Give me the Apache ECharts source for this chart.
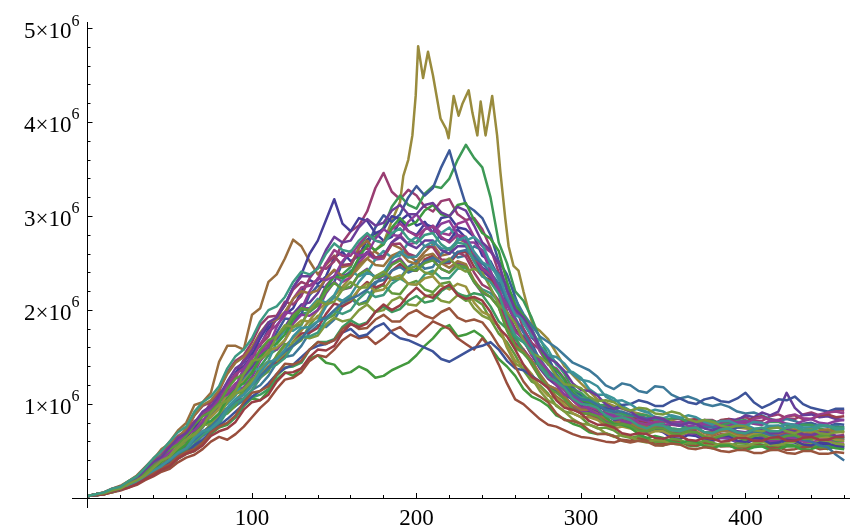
<!DOCTYPE html>
<html><head><meta charset="utf-8">
<script src="https://cdn.jsdelivr.net/npm/echarts@6/dist/echarts.min.js"></script>
<style>html,body{margin:0;padding:0;background:#fff}#chart{width:850px;height:530px}</style>
</head><body><div id="chart"></div>
<script>
// x positions shared by most runs (every 5 steps)
const steps = [0,5,10,15,20,25,30,35,40,45,50,55,60,65,70,75,80,85,90,95,100,105,110,115,120,125,130,135,140,145,150,155,160,165,170,175,180,185,190,195,200,205,210,215,220,225,230,235,240,245,250,255,260,265,270,275,280,285,290,295,300,305,310,315,320,325,330,335,340,345,350,355,360,365,370,375,380,385,390,395,400,405,410,415,420,425,430,435,440,445,450,455,460];
// run values, in units of 10^6
const walk00 = [0.02,0.03,0.05,0.08,0.11,0.16,0.19,0.25,0.35,0.45,0.52,0.60,0.64,0.72,0.88,0.98,1.02,1.14,1.33,1.47,
1.54,1.62,1.80,1.90,1.95,2.02,2.20,2.32,2.28,2.36,2.56,2.62,2.52,2.58,2.75,2.82,2.74,2.78,2.95,3.02,
2.90,2.94,2.82,2.98,3.00,2.88,2.86,2.78,2.58,2.52,2.35,2.06,1.88,1.80,1.65,1.46,1.33,1.28,1.18,1.12,
0.99,0.92,0.94,0.90,0.83,0.84,0.78,0.71,0.69,0.73,0.70,0.64,0.63,0.67,0.66,0.62,0.61,0.64,0.63,0.59,
0.58,0.62,0.61,0.57,0.56,0.60,0.59,0.55,0.55,0.58,0.57,0.54,0.53];
const walk01 = [0.02,0.03,0.05,0.09,0.12,0.17,0.21,0.31,0.39,0.44,0.52,0.63,0.71,0.82,0.87,1.02,1.12,1.18,1.28,1.46,
1.60,1.63,1.72,1.94,2.09,2.06,2.15,2.34,2.46,2.44,2.52,2.72,2.84,2.90,3.05,3.30,3.46,3.26,3.18,3.28,
3.22,3.10,3.05,3.16,3.18,3.02,2.96,2.98,2.86,2.66,2.40,2.26,2.05,1.80,1.65,1.58,1.46,1.30,1.19,1.16,
1.09,1.00,0.96,0.97,0.93,0.86,0.84,0.88,0.85,0.81,0.80,0.84,0.84,0.80,0.79,0.83,0.83,0.79,0.80,0.84,
0.86,0.82,0.82,0.87,0.89,0.85,0.84,0.89,0.91,0.88,0.90,0.94,0.93];
const heroSteps = [0,10,20,30,40,50,60,70,80,90,100,110,120,130,140,150,160,170,180,185,190,192,195,197.5,199.5,201,204,207,210,212,214.6,218,219.5,222.6,225.6,228,231.7,234,237,239,242,246,249,251,254,256,259,262,265,268,271,275,280,290,300,310,320,330,340,350,360,370,380,390,400,410,420,430,440,450,460];
const heroWalk = [0.02,0.05,0.10,0.18,0.28,0.40,0.54,0.70,0.86,1.05,1.22,1.40,1.62,1.78,2.00,2.15,2.35,2.55,2.72,2.95,3.15,3.43,3.60,3.86,4.28,4.81,4.47,4.75,4.50,4.30,4.04,3.93,3.83,4.28,4.07,4.20,4.34,4.10,3.86,4.22,3.86,4.28,3.86,3.47,2.97,2.68,2.47,2.42,2.20,2.00,1.83,1.78,1.69,1.40,1.22,1.05,0.98,0.92,0.88,0.85,0.80,0.82,0.78,0.76,0.74,0.72,0.76,0.72,0.70,0.73,0.70];
const walk03 = [0.02,0.03,0.05,0.08,0.10,0.14,0.19,0.26,0.31,0.40,0.46,0.50,0.58,0.70,0.77,0.80,0.88,1.02,1.11,1.14,
1.24,1.40,1.52,1.58,1.68,1.86,1.96,1.98,2.05,2.24,2.36,2.38,2.46,2.66,2.80,2.78,2.88,3.10,3.22,3.12,
3.08,3.24,3.32,3.30,3.40,3.60,3.76,3.62,3.52,3.20,2.72,2.50,2.20,2.10,1.92,1.70,1.52,1.44,1.32,1.16,
1.07,1.06,1.01,0.93,0.89,0.90,0.86,0.80,0.78,0.81,0.79,0.74,0.73,0.76,0.75,0.70,0.69,0.73,0.72,0.68,
0.67,0.71,0.70,0.66,0.65,0.68,0.67,0.63,0.62,0.65,0.64,0.60,0.61];
const walk04 = [0.02,0.04,0.05,0.07,0.10,0.15,0.19,0.25,0.34,0.38,0.47,0.58,0.64,0.69,0.78,0.92,1.00,1.04,1.15,1.34,
1.46,1.48,1.57,1.76,1.91,1.90,1.96,2.16,2.26,2.24,2.30,2.50,2.63,2.60,2.68,2.88,3.01,2.94,3.02,3.20,
3.32,3.22,3.30,3.52,3.70,3.40,3.12,3.06,2.98,2.80,2.52,2.38,2.14,1.90,1.71,1.62,1.50,1.32,1.21,1.18,
1.09,1.00,0.95,0.96,0.91,0.84,0.81,0.84,0.81,0.76,0.75,0.79,0.78,0.74,0.73,0.76,0.75,0.71,0.72,0.75,
0.76,0.73,0.72,0.76,0.77,0.74,0.76,0.79,0.80,0.77,0.76,0.79,0.78];
const walk05 = [0.02,0.04,0.05,0.08,0.10,0.13,0.19,0.27,0.32,0.42,0.48,0.52,0.60,0.74,0.83,0.86,0.95,1.12,1.22,1.27,
1.38,1.55,1.66,1.69,1.78,1.94,2.02,2.02,2.08,2.26,2.36,2.30,2.35,2.50,2.60,2.54,2.55,2.72,2.80,2.70,
2.72,2.86,2.90,2.82,2.80,2.92,2.95,2.78,2.68,2.62,2.50,2.20,1.98,1.90,1.76,1.56,1.42,1.38,1.27,1.12,
1.06,1.06,1.01,0.92,0.86,0.87,0.83,0.76,0.74,0.76,0.74,0.69,0.68,0.71,0.69,0.64,0.62,0.65,0.64,0.60,
0.60,0.63,0.63,0.59,0.60,0.63,0.63,0.60,0.59,0.62,0.62,0.58,0.58];
const walk06 = [0.02,0.04,0.06,0.10,0.13,0.18,0.24,0.33,0.42,0.50,0.60,0.72,0.80,0.99,1.02,1.12,1.45,1.62,1.62,1.58,
1.95,2.02,2.30,2.38,2.55,2.75,2.68,2.52,2.38,2.48,2.58,2.46,2.48,2.66,2.74,2.62,2.56,2.70,2.66,2.58,
2.52,2.62,2.70,2.58,2.60,2.76,2.72,2.56,2.42,2.36,2.18,1.92,1.70,1.58,1.42,1.28,1.18,1.08,1.02,0.94,
0.92,0.88,0.85,0.80,0.80,0.85,0.83,0.78,0.76,0.80,0.78,0.73,0.72,0.76,0.75,0.70,0.70,0.74,0.73,0.69,
0.68,0.72,0.71,0.67,0.66,0.70,0.69,0.65,0.64,0.68,0.67,0.63,0.63];
const walk07 = [0.02,0.03,0.04,0.07,0.09,0.12,0.15,0.21,0.25,0.30,0.33,0.42,0.47,0.50,0.57,0.68,0.75,0.78,0.86,0.98,
1.06,1.04,1.14,1.26,1.34,1.30,1.38,1.48,1.52,1.44,1.42,1.32,1.34,1.40,1.36,1.28,1.30,1.36,1.40,1.44,
1.52,1.62,1.70,1.80,1.84,1.72,1.74,1.78,1.72,1.60,1.48,1.40,1.30,1.16,1.08,1.04,0.98,0.88,0.84,0.79,
0.76,0.70,0.68,0.69,0.66,0.61,0.60,0.63,0.61,0.57,0.56,0.59,0.60,0.56,0.55,0.58,0.57,0.55,0.56,0.53,
0.55,0.58,0.57,0.54,0.54,0.57,0.56,0.53,0.55,0.54,0.52,0.55,0.56];
const walk08 = [0.02,0.03,0.05,0.08,0.10,0.14,0.17,0.23,0.28,0.32,0.38,0.46,0.51,0.57,0.66,0.72,0.82,0.92,0.98,1.04,
1.15,1.20,1.30,1.44,1.50,1.52,1.62,1.76,1.84,1.82,1.90,2.04,2.12,2.06,2.10,2.28,2.38,2.32,2.34,2.46,
2.52,2.44,2.46,2.60,2.66,2.56,2.58,2.68,2.64,2.48,2.38,2.22,2.12,1.96,1.84,1.72,1.66,1.60,1.52,1.44,
1.40,1.36,1.29,1.20,1.16,1.22,1.20,1.14,1.12,1.19,1.18,1.10,1.06,1.08,1.05,1.00,0.98,1.00,0.97,0.92,
0.90,0.91,0.88,0.84,0.82,0.84,0.82,0.78,0.77,0.78,0.76,0.77,0.75];
const walk09 = [0.02,0.03,0.05,0.08,0.10,0.15,0.18,0.22,0.30,0.39,0.45,0.48,0.56,0.68,0.77,0.80,0.88,1.04,1.13,1.18,
1.29,1.46,1.56,1.58,1.68,1.86,1.95,1.94,2.00,2.18,2.30,2.22,2.24,2.38,2.44,2.34,2.36,2.50,2.55,2.44,
2.42,2.52,2.54,2.44,2.40,2.50,2.47,2.30,2.18,2.14,2.04,1.80,1.62,1.58,1.46,1.30,1.20,1.16,1.08,0.98,
0.93,0.93,0.89,0.82,0.78,0.80,0.77,0.71,0.69,0.72,0.71,0.66,0.66,0.69,0.68,0.63,0.61,0.64,0.64,0.60,
0.60,0.64,0.65,0.61,0.61,0.65,0.65,0.62,0.62,0.66,0.66,0.62,0.63];
const walk10 = [0.02,0.03,0.04,0.06,0.08,0.11,0.14,0.19,0.23,0.28,0.31,0.38,0.43,0.46,0.52,0.60,0.65,0.62,0.68,0.76,
0.86,0.96,1.04,1.16,1.26,1.28,1.34,1.46,1.52,1.50,1.58,1.68,1.74,1.70,1.72,1.64,1.70,1.78,1.82,1.74,
1.72,1.80,1.88,1.84,1.80,1.70,1.64,1.58,1.70,1.60,1.42,1.22,1.05,1.00,0.92,0.84,0.78,0.76,0.72,0.68,
0.65,0.64,0.62,0.60,0.59,0.62,0.61,0.64,0.62,0.59,0.58,0.61,0.61,0.57,0.56,0.59,0.58,0.55,0.55,0.55,
0.53,0.56,0.56,0.53,0.54,0.51,0.52,0.54,0.55,0.52,0.53,0.56,0.56];
const walk11 = [0.02,0.04,0.05,0.06,0.09,0.14,0.17,0.22,0.29,0.36,0.40,0.50,0.56,0.60,0.67,0.79,0.87,0.90,0.98,1.16,
1.27,1.28,1.35,1.52,1.64,1.62,1.68,1.84,1.94,1.90,1.95,2.08,2.15,2.06,2.08,2.22,2.27,2.18,2.17,2.28,
2.31,2.22,2.19,2.28,2.30,2.16,2.10,2.12,2.06,1.90,1.75,1.66,1.52,1.36,1.24,1.20,1.11,0.98,0.92,0.90,
0.86,0.78,0.74,0.75,0.72,0.66,0.64,0.66,0.64,0.60,0.60,0.63,0.62,0.58,0.58,0.61,0.59,0.56,0.56,0.58,
0.58,0.55,0.55,0.58,0.58,0.55,0.55,0.57,0.57,0.54,0.54,0.57,0.56];
const walk12 = [0.02,0.03,0.05,0.09,0.11,0.14,0.19,0.28,0.34,0.38,0.46,0.56,0.63,0.66,0.75,0.88,0.97,1.00,1.09,1.26,
1.36,1.38,1.46,1.66,1.79,1.78,1.84,2.02,2.12,2.08,2.16,2.32,2.42,2.36,2.40,2.54,2.63,2.56,2.58,2.72,
2.78,2.68,2.68,2.82,2.88,2.76,2.74,2.78,2.70,2.50,2.32,2.24,2.07,1.86,1.72,1.68,1.58,1.42,1.34,1.34,
1.28,1.16,1.10,1.10,1.06,0.98,0.93,0.95,0.92,0.86,0.85,0.88,0.86,0.81,0.79,0.82,0.80,0.76,0.76,0.79,
0.78,0.74,0.74,0.77,0.77,0.73,0.72,0.75,0.75,0.71,0.70,0.73,0.73];
const walk13 = [0.02,0.04,0.05,0.07,0.10,0.15,0.18,0.25,0.32,0.37,0.44,0.54,0.60,0.66,0.76,0.88,0.96,1.04,1.16,1.30,
1.40,1.50,1.62,1.70,1.82,1.96,2.06,2.08,2.18,2.34,2.42,2.36,2.40,2.54,2.62,2.56,2.58,2.72,2.78,2.70,
2.66,2.74,2.74,2.64,2.60,2.68,2.68,2.52,2.42,2.34,2.20,1.98,1.80,1.68,1.52,1.38,1.27,1.20,1.10,1.05,
0.98,0.92,0.90,0.88,0.84,0.80,0.80,0.82,0.79,0.76,0.75,0.78,0.78,0.81,0.80,0.78,0.79,0.82,0.84,0.83,
0.88,0.86,0.91,0.88,0.92,1.12,0.96,0.88,0.89,0.86,0.87,0.84,0.83];
const walk14 = [0.02,0.03,0.05,0.08,0.10,0.14,0.17,0.24,0.31,0.35,0.42,0.49,0.54,0.64,0.71,0.75,0.82,0.94,1.03,1.06,
1.15,1.28,1.39,1.44,1.52,1.66,1.75,1.76,1.81,1.96,2.07,2.04,2.09,2.22,2.30,2.24,2.28,2.42,2.49,2.42,
2.42,2.54,2.58,2.50,2.50,2.60,2.62,2.46,2.36,2.32,2.22,1.98,1.78,1.72,1.61,1.44,1.33,1.28,1.20,1.10,
1.04,1.04,1.00,0.93,0.89,0.90,0.88,0.83,0.81,0.84,0.84,0.80,0.80,0.83,0.84,0.79,0.78,0.83,0.84,0.80,
0.81,0.85,0.87,0.83,0.83,0.87,0.88,0.84,0.84,0.88,0.89,0.86,0.87];
const walk15 = [0.02,0.04,0.05,0.07,0.10,0.15,0.18,0.24,0.33,0.38,0.45,0.53,0.58,0.66,0.77,0.80,0.88,1.02,1.11,1.16,
1.24,1.36,1.45,1.46,1.54,1.66,1.72,1.70,1.73,1.85,1.92,1.88,1.90,2.00,2.06,1.98,2.00,2.10,2.14,2.06,
2.05,2.14,2.17,2.10,2.08,2.16,2.15,2.02,1.94,1.90,1.83,1.60,1.43,1.38,1.28,1.14,1.04,0.99,0.92,0.84,
0.79,0.78,0.75,0.69,0.65,0.67,0.65,0.61,0.59,0.62,0.61,0.58,0.57,0.60,0.60,0.56,0.55,0.58,0.58,0.55,
0.55,0.58,0.60,0.57,0.56,0.59,0.60,0.57,0.57,0.60,0.60,0.58,0.57];
const walk16 = [0.02,0.03,0.04,0.07,0.09,0.12,0.17,0.23,0.27,0.35,0.40,0.44,0.51,0.61,0.68,0.72,0.79,0.92,1.01,1.06,
1.15,1.28,1.38,1.42,1.49,1.62,1.71,1.72,1.76,1.90,1.99,1.96,2.00,2.12,2.20,2.14,2.16,2.28,2.34,2.28,
2.27,2.38,2.42,2.34,2.34,2.44,2.45,2.30,2.22,2.18,2.10,1.88,1.71,1.66,1.57,1.42,1.31,1.30,1.23,1.12,
1.07,1.06,1.01,0.93,0.89,0.89,0.86,0.80,0.78,0.80,0.79,0.74,0.73,0.76,0.75,0.70,0.69,0.72,0.72,0.68,
0.67,0.70,0.71,0.67,0.66,0.69,0.69,0.65,0.64,0.67,0.68,0.65,0.64];
const walk17 = [0.02,0.04,0.05,0.08,0.11,0.15,0.20,0.27,0.36,0.42,0.51,0.60,0.65,0.75,0.88,0.95,1.04,1.20,1.33,1.40,
1.52,1.70,1.84,1.92,2.05,2.24,2.38,2.60,2.74,2.96,3.18,2.92,2.84,2.98,2.95,2.82,2.86,3.00,2.97,2.84,
2.80,2.92,2.88,2.76,2.74,2.86,2.77,2.60,2.45,2.40,2.23,1.98,1.77,1.70,1.57,1.40,1.28,1.24,1.15,1.04,
0.96,0.96,0.92,0.84,0.80,0.82,0.79,0.73,0.71,0.74,0.73,0.68,0.67,0.70,0.69,0.64,0.62,0.66,0.66,0.61,
0.60,0.64,0.63,0.58,0.59,0.62,0.61,0.57,0.56,0.59,0.58,0.55,0.54];
const walk18 = [0.02,0.04,0.06,0.10,0.12,0.16,0.22,0.32,0.40,0.46,0.57,0.66,0.72,0.88,0.98,1.02,1.14,1.34,1.46,1.52,
1.66,1.84,1.93,1.94,2.05,2.22,2.30,2.26,2.33,2.50,2.57,2.48,2.49,2.62,2.66,2.56,2.57,2.70,2.71,2.60,
2.57,2.68,2.67,2.54,2.53,2.62,2.57,2.40,2.27,2.22,2.10,1.84,1.65,1.58,1.47,1.30,1.19,1.14,1.06,0.96,
0.90,0.90,0.86,0.80,0.77,0.79,0.77,0.72,0.71,0.75,0.74,0.70,0.69,0.72,0.71,0.66,0.65,0.68,0.69,0.65,
0.65,0.68,0.69,0.65,0.66,0.69,0.70,0.66,0.66,0.69,0.70,0.66,0.67];
const walk19 = [0.02,0.04,0.05,0.09,0.11,0.14,0.19,0.28,0.35,0.40,0.48,0.58,0.62,0.70,0.82,0.86,0.95,1.10,1.19,1.24,
1.34,1.48,1.57,1.60,1.68,1.82,1.89,1.88,1.92,2.06,2.14,2.08,2.11,2.22,2.28,2.20,2.22,2.34,2.37,2.28,
2.27,2.34,2.36,2.26,2.22,2.28,2.25,2.08,1.98,1.94,1.83,1.62,1.46,1.42,1.32,1.18,1.09,1.06,0.99,0.90,
0.86,0.86,0.83,0.77,0.74,0.76,0.74,0.70,0.68,0.71,0.71,0.67,0.67,0.70,0.70,0.66,0.64,0.67,0.69,0.66,
0.65,0.68,0.68,0.65,0.64,0.67,0.67,0.63,0.62,0.65,0.65,0.62,0.61];
const walk20 = [0.02,0.03,0.04,0.07,0.09,0.12,0.16,0.22,0.27,0.30,0.37,0.45,0.51,0.54,0.60,0.70,0.76,0.79,0.86,0.98,
1.07,1.10,1.16,1.30,1.39,1.40,1.44,1.58,1.66,1.66,1.69,1.82,1.89,1.84,1.87,1.98,2.04,1.98,2.01,2.10,
2.15,2.08,2.10,2.20,2.26,2.18,2.14,2.18,2.16,2.04,1.88,1.80,1.70,1.56,1.44,1.42,1.35,1.24,1.15,1.16,
1.12,1.04,0.99,0.99,0.96,0.90,0.87,0.89,0.88,0.83,0.82,0.85,0.85,0.81,0.80,0.83,0.82,0.79,0.79,0.82,
0.83,0.79,0.78,0.81,0.81,0.77,0.75,0.78,0.78,0.74,0.72,0.75,0.75];
const walk21 = [0.02,0.03,0.05,0.07,0.09,0.12,0.16,0.21,0.26,0.33,0.37,0.42,0.48,0.56,0.62,0.70,0.77,0.84,0.92,1.00,
1.08,1.14,1.22,1.32,1.38,1.42,1.50,1.58,1.62,1.64,1.68,1.76,1.80,1.72,1.74,1.82,1.86,1.76,1.70,1.68,
1.64,1.60,1.56,1.48,1.45,1.50,1.55,1.60,1.62,1.66,1.58,1.46,1.38,1.36,1.30,1.24,1.20,1.14,1.10,1.05,
1.02,1.00,0.98,0.94,0.95,0.99,1.00,1.04,1.02,0.98,0.98,1.03,1.06,1.02,1.00,1.05,1.07,1.03,1.02,1.06,
1.12,1.02,0.96,1.00,1.05,1.04,1.08,1.00,0.96,0.94,0.92,0.95,0.95];
const walk22 = [0.02,0.04,0.05,0.09,0.12,0.17,0.21,0.28,0.37,0.46,0.54,0.60,0.68,0.80,0.90,0.96,1.04,1.20,1.32,1.38,
1.48,1.64,1.77,1.84,1.94,2.12,2.24,2.26,2.32,2.50,2.64,2.58,2.58,2.70,2.80,2.74,2.72,2.86,2.92,2.84,
2.79,2.86,2.89,2.78,2.72,2.80,2.78,2.60,2.44,2.38,2.24,1.98,1.77,1.70,1.57,1.40,1.28,1.24,1.15,1.04,
0.96,0.97,0.94,0.88,0.84,0.86,0.85,0.80,0.78,0.81,0.82,0.78,0.77,0.80,0.82,0.78,0.76,0.80,0.83,0.80,
0.79,0.84,0.86,0.83,0.82,0.87,0.89,0.85,0.84,0.89,0.91,0.92,0.90];
const walk23 = [0.02,0.04,0.06,0.09,0.12,0.18,0.23,0.30,0.41,0.52,0.58,0.64,0.74,0.88,0.99,1.04,1.15,1.32,1.44,1.50,
1.61,1.76,1.87,1.90,1.98,2.12,2.20,2.18,2.21,2.34,2.43,2.36,2.36,2.48,2.55,2.48,2.47,2.58,2.62,2.52,
2.49,2.58,2.60,2.50,2.45,2.52,2.49,2.32,2.20,2.14,2.03,1.80,1.62,1.56,1.46,1.32,1.20,1.16,1.08,0.99,
0.94,0.94,0.90,0.84,0.80,0.82,0.80,0.75,0.73,0.76,0.77,0.72,0.71,0.74,0.74,0.69,0.67,0.71,0.72,0.68,
0.67,0.71,0.73,0.69,0.68,0.72,0.73,0.69,0.68,0.72,0.73,0.70,0.70];
const walk24 = [0.02,0.03,0.05,0.08,0.10,0.15,0.18,0.23,0.30,0.39,0.45,0.50,0.57,0.70,0.78,0.82,0.90,1.06,1.17,1.22,
1.33,1.50,1.61,1.64,1.74,1.90,2.01,2.00,2.06,2.24,2.36,2.34,2.39,2.56,2.69,2.64,2.70,2.88,2.98,2.90,
2.94,3.06,3.12,3.02,3.00,3.12,3.14,2.96,2.82,2.76,2.63,2.30,2.05,1.94,1.80,1.60,1.43,1.36,1.26,1.12,
1.04,1.02,0.96,0.86,0.79,0.78,0.75,0.68,0.64,0.66,0.64,0.60,0.58,0.61,0.60,0.55,0.53,0.56,0.56,0.52,
0.51,0.54,0.55,0.51,0.52,0.55,0.55,0.51,0.52,0.55,0.55,0.53,0.52];
const walk25 = [0.02,0.03,0.05,0.08,0.10,0.13,0.17,0.23,0.28,0.35,0.40,0.47,0.53,0.62,0.70,0.76,0.85,0.96,1.04,1.10,
1.20,1.30,1.38,1.48,1.56,1.62,1.70,1.80,1.88,1.92,2.00,2.08,2.12,2.16,2.22,2.30,2.32,2.42,2.46,2.40,
2.44,2.52,2.56,2.50,2.52,2.62,2.64,2.56,2.50,2.40,2.28,2.10,1.92,1.76,1.62,1.48,1.36,1.28,1.20,1.10,
1.05,1.04,0.99,0.94,0.92,0.92,0.89,0.86,0.85,0.85,0.83,0.80,0.79,0.80,0.79,0.76,0.75,0.76,0.73,0.70,
0.69,0.71,0.70,0.67,0.65,0.67,0.66,0.62,0.60,0.56,0.54,0.46,0.40];
const walk26 = [0.02,0.04,0.05,0.09,0.11,0.15,0.20,0.29,0.36,0.41,0.49,0.60,0.68,0.72,0.81,0.96,1.06,1.10,1.19,1.38,
1.51,1.54,1.61,1.82,1.98,1.96,2.01,2.20,2.34,2.32,2.36,2.52,2.63,2.58,2.60,2.76,2.86,2.80,2.79,2.94,
3.02,2.90,2.82,2.92,2.95,2.80,2.72,2.72,2.63,2.42,2.19,2.06,1.89,1.68,1.52,1.46,1.36,1.20,1.10,1.08,
1.02,0.94,0.89,0.90,0.88,0.82,0.80,0.84,0.82,0.78,0.77,0.80,0.81,0.77,0.76,0.79,0.79,0.76,0.77,0.81,
0.82,0.79,0.78,0.82,0.83,0.79,0.78,0.82,0.84,0.80,0.79,0.82,0.83];
const walk27 = [0.02,0.03,0.04,0.06,0.09,0.12,0.15,0.20,0.26,0.32,0.36,0.44,0.49,0.52,0.59,0.70,0.76,0.80,0.88,1.02,
1.12,1.14,1.19,1.32,1.43,1.42,1.46,1.58,1.66,1.64,1.68,1.80,1.86,1.80,1.81,1.90,1.95,1.88,1.88,1.96,
2.00,1.94,1.91,1.98,2.02,1.92,1.88,1.90,1.87,1.76,1.62,1.52,1.40,1.24,1.13,1.08,1.02,0.90,0.83,0.82,
0.79,0.72,0.68,0.68,0.66,0.61,0.59,0.61,0.60,0.56,0.56,0.58,0.57,0.53,0.52,0.54,0.53,0.50,0.49,0.51,
0.51,0.48,0.48,0.51,0.51,0.48,0.47,0.50,0.50,0.47,0.47,0.49,0.48];
const walk28 = [0.02,0.04,0.05,0.09,0.11,0.17,0.21,0.27,0.36,0.45,0.52,0.57,0.66,0.78,0.87,0.92,1.01,1.16,1.27,1.32,
1.43,1.58,1.68,1.72,1.80,1.94,2.02,2.00,2.05,2.20,2.29,2.22,2.25,2.38,2.43,2.34,2.37,2.48,2.53,2.44,
2.42,2.50,2.53,2.44,2.40,2.48,2.46,2.30,2.19,2.14,2.03,1.78,1.60,1.54,1.44,1.28,1.17,1.12,1.05,0.95,
0.90,0.90,0.87,0.80,0.77,0.79,0.77,0.72,0.71,0.74,0.74,0.69,0.68,0.71,0.70,0.65,0.63,0.66,0.68,0.64,
0.62,0.66,0.67,0.63,0.63,0.66,0.67,0.63,0.63,0.66,0.67,0.64,0.65];
const walk29 = [0.02,0.03,0.05,0.07,0.09,0.14,0.17,0.24,0.29,0.34,0.41,0.48,0.53,0.64,0.71,0.74,0.82,0.96,1.05,1.10,
1.20,1.34,1.44,1.48,1.58,1.72,1.81,1.82,1.88,2.04,2.14,2.10,2.16,2.30,2.40,2.36,2.40,2.54,2.62,2.56,
2.57,2.68,2.73,2.66,2.65,2.74,2.78,2.62,2.51,2.46,2.36,2.14,1.95,1.90,1.80,1.62,1.52,1.50,1.43,1.32,
1.26,1.24,1.19,1.08,1.03,1.04,1.00,0.94,0.91,0.94,0.92,0.87,0.85,0.88,0.86,0.81,0.78,0.82,0.82,0.78,
0.77,0.81,0.80,0.76,0.76,0.79,0.78,0.75,0.74,0.78,0.77,0.74,0.73];
const walk30 = [0.02,0.04,0.05,0.09,0.12,0.16,0.21,0.30,0.38,0.44,0.54,0.64,0.69,0.80,0.92,0.98,1.09,1.24,1.38,1.44,
1.57,1.74,1.87,1.92,2.06,2.24,2.36,2.36,2.45,2.64,2.78,2.72,2.74,2.88,2.97,2.90,2.93,3.06,3.12,3.02,
3.02,3.12,3.14,3.04,3.00,3.10,3.06,2.90,2.72,2.64,2.49,2.22,2.01,1.92,1.79,1.60,1.49,1.44,1.35,1.22,
1.15,1.14,1.09,1.00,0.95,0.96,0.92,0.86,0.83,0.86,0.84,0.79,0.77,0.80,0.79,0.74,0.72,0.75,0.75,0.71,
0.70,0.73,0.73,0.69,0.69,0.72,0.71,0.68,0.67,0.70,0.69,0.66,0.66];
const walk31 = [0.02,0.03,0.04,0.07,0.09,0.11,0.15,0.20,0.24,0.30,0.34,0.42,0.47,0.50,0.56,0.66,0.71,0.74,0.81,0.94,
1.02,1.04,1.10,1.24,1.33,1.34,1.38,1.50,1.58,1.57,1.62,1.76,1.85,1.82,1.86,1.98,2.06,2.00,2.05,2.16,
2.24,2.16,2.13,2.22,2.27,2.16,2.12,2.14,2.10,1.98,1.81,1.72,1.58,1.42,1.29,1.24,1.17,1.04,0.96,0.94,
0.90,0.82,0.78,0.78,0.75,0.69,0.67,0.69,0.68,0.64,0.63,0.66,0.66,0.62,0.61,0.64,0.63,0.60,0.61,0.64,
0.64,0.61,0.61,0.64,0.65,0.61,0.61,0.64,0.65,0.62,0.62,0.65,0.65];
const walk32 = [0.02,0.04,0.05,0.08,0.10,0.15,0.19,0.24,0.32,0.40,0.44,0.54,0.62,0.68,0.76,0.90,0.99,1.04,1.14,1.32,
1.46,1.48,1.54,1.72,1.84,1.82,1.85,2.00,2.10,2.06,2.09,2.22,2.30,2.24,2.24,2.36,2.41,2.34,2.33,2.44,
2.47,2.40,2.38,2.50,2.55,2.46,2.41,2.44,2.40,2.24,2.06,1.98,1.86,1.68,1.54,1.50,1.43,1.30,1.21,1.20,
1.17,1.08,1.03,1.04,1.02,0.96,0.93,0.96,0.95,0.90,0.89,0.92,0.90,0.84,0.81,0.83,0.81,0.77,0.75,0.77,
0.76,0.72,0.71,0.74,0.75,0.71,0.69,0.72,0.73,0.69,0.68,0.70,0.71];
const walk33 = [0.02,0.04,0.06,0.10,0.12,0.18,0.23,0.32,0.42,0.50,0.60,0.70,0.76,0.92,1.02,1.08,1.19,1.38,1.51,1.58,
1.70,1.88,2.00,2.04,2.14,2.30,2.41,2.38,2.44,2.60,2.71,2.64,2.62,2.74,2.82,2.74,2.71,2.82,2.87,2.76,
2.71,2.80,2.82,2.70,2.64,2.72,2.70,2.52,2.36,2.30,2.17,1.92,1.73,1.66,1.56,1.40,1.29,1.24,1.17,1.06,
1.00,0.99,0.96,0.88,0.84,0.86,0.83,0.77,0.74,0.78,0.77,0.72,0.71,0.74,0.75,0.70,0.69,0.73,0.74,0.70,
0.69,0.73,0.75,0.71,0.71,0.75,0.76,0.72,0.72,0.76,0.77,0.74,0.74];

const xTickLabels = [100,200,300,400];
const xMinorTicks = [20,40,60,80,120,140,160,180,220,240,260,280,320,340,360,380,420,440,460];
const yTickLabels = [1,2,3,4,5];   // shown as n×10^6

const walks = [walk00,walk01,heroWalk,walk03,walk04,walk05,walk06,walk07,walk08,walk09,walk10,walk11,walk12,walk13,walk14,walk15,walk16,walk17,walk18,walk19,walk20,walk21,walk22,walk23,walk24,walk25,walk26,walk27,walk28,walk29,walk30,walk31,walk32,walk33];
const palette = ['rgb(63,61,153)','rgb(153,61,113)','rgb(153,139,61)','rgb(61,153,86)','rgb(61,90,153)','rgb(153,61,144)','rgb(153,109,61)','rgb(67,153,61)','rgb(61,121,153)','rgb(132,61,153)','rgb(153,78,61)','rgb(98,153,61)','rgb(61,151,153)','rgb(101,61,153)','rgb(153,61,75)','rgb(129,153,61)','rgb(61,153,124)','rgb(70,61,153)','rgb(153,61,106)','rgb(153,147,61)','rgb(61,153,93)','rgb(61,83,153)','rgb(153,61,136)','rgb(153,116,61)','rgb(61,153,63)','rgb(61,113,153)','rgb(139,61,153)','rgb(153,85,61)','rgb(91,153,61)','rgb(61,144,153)','rgb(108,61,153)','rgb(153,61,68)','rgb(121,153,61)','rgb(61,153,131)'];

const serif = 'Liberation Serif';
const series = walks.map((w, i) => {
  const xs = (w === heroWalk) ? heroSteps : steps;
  return {
    type: 'line', xAxisIndex: 0, yAxisIndex: 0,
    showSymbol: false, symbol: 'none', animation: false, silent: true,
    lineStyle: { width: 2.5, color: palette[i % palette.length], join: 'round' },
    data: w.map((v, k) => [xs[k], v])
  };
});

const chart = echarts.init(document.getElementById('chart'), null, { renderer: 'canvas' });
chart.setOption({
  backgroundColor: '#fff',
  animation: false,
  grid: { left: 87.5, right: 5.8, top: 28.3, bottom: 31.5, containLabel: false },
  xAxis: [
    { type: 'value', min: 0, max: 460, interval: 20,
      axisLine: { show: true, onZero: false, lineStyle: { color: '#000', width: 1 } },
      axisTick: { show: true, inside: true, length: 3, customValues: xMinorTicks, lineStyle: { color: '#000' } },
      axisLabel: { show: false }, splitLine: { show: false } },
    { type: 'value', min: 0, max: 460, position: 'bottom',
      axisLine: { show: false },
      axisTick: { show: true, inside: true, length: 5, customValues: xTickLabels, lineStyle: { color: '#000' } },
      axisLabel: { show: true, customValues: xTickLabels, fontFamily: serif, fontSize: 23, color: '#000', margin: 9 },
      splitLine: { show: false } }
  ],
  yAxis: [
    { type: 'value', min: 0, max: 5, interval: 1,
      axisLine: { show: true, onZero: false, lineStyle: { color: '#000', width: 1 } },
      axisTick: { show: true, inside: true, length: 5, lineStyle: { color: '#000' } },
      minorTick: { show: true, splitNumber: 5, length: 3, lineStyle: { color: '#000' } },
      splitLine: { show: false },
      axisLabel: { show: true, margin: 8, fontFamily: serif, fontSize: 23, color: '#000',
        formatter: v => yTickLabels.includes(v) ? `{m|${v}×10}{s|6}` : '',
        rich: {
          m: { fontFamily: serif, fontSize: 23, color: '#000', verticalAlign: 'bottom', lineHeight: 30 },
          s: { fontFamily: serif, fontSize: 16, color: '#000', verticalAlign: 'top', lineHeight: 30 }
        } } }
  ],
  graphic: [
    { type: 'line', silent: true, z: 100, shape: { x1: 72, y1: 498.5, x2: 850, y2: 498.5 }, style: { stroke: '#000', lineWidth: 1 } },
    { type: 'line', silent: true, z: 100, shape: { x1: 87.5, y1: 22, x2: 87.5, y2: 508 }, style: { stroke: '#000', lineWidth: 1 } }
  ],
  series: series
});
</script>
</body></html>
